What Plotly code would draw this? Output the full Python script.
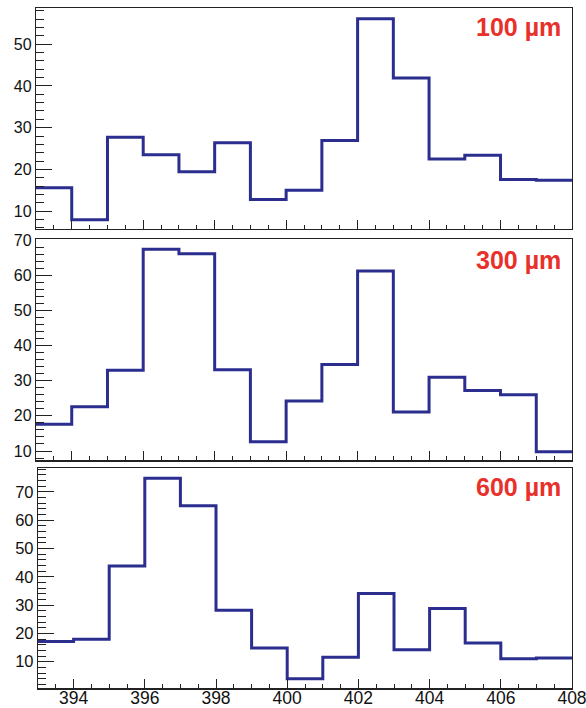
import plotly.graph_objects as go

bin_edges = [393, 394, 395, 396, 397, 398, 399, 400, 401, 402, 403, 404, 405, 406, 407, 408]
counts_100 = [15.6, 7.9, 27.7, 23.5, 19.4, 26.4, 12.8, 15.0, 26.9, 56.1, 41.9, 22.5, 23.4, 17.6, 17.4]
counts_300 = [17.6, 22.6, 33.0, 67.4, 66.1, 33.1, 12.6, 24.2, 34.6, 61.2, 21.1, 31.0, 27.2, 26.0, 9.8]
counts_600 = [17.1, 17.9, 43.8, 74.8, 65.1, 28.2, 14.8, 4.0, 11.6, 34.1, 14.2, 28.8, 16.6, 11.0, 11.3]
labels = ["100 µm", "300 µm", "600 µm"]
x_ticks = [394, 396, 398, 400, 402, 404, 406, 408]

W, H = 586, 708
panels = [
    dict(vals=counts_100, x0=36, x1=572, top=8, bot=229, yr=[5.7, 58.7], lab=labels[0], ly=0.914, fs=16),
    dict(vals=counts_300, x0=36, x1=572, top=239.3, bot=460.3, yr=[7.36, 70.2], lab=labels[1], ly=0.906, fs=16),
    dict(vals=counts_600, x0=38, x1=572, top=467.7, bot=688.3, yr=[0.6, 78.5], lab=labels[2], ly=0.914, fs=16.5),
]

LINE = "#2b2e8e"
AX = "#222222"
fig = go.Figure()
layout = dict(width=W, height=H, margin=dict(l=0, r=0, t=0, b=0, autoexpand=False),
              paper_bgcolor="white", plot_bgcolor="white", showlegend=False,
              font=dict(family="Liberation Sans, Arial, sans-serif", color="#111"))
annotations = []
for i, p in enumerate(panels):
    n = "" if i == 0 else str(i + 1)
    xs = list(bin_edges)
    ys = list(p["vals"]) + [p["vals"][-1]]
    fig.add_trace(go.Scatter(x=xs, y=ys, mode="lines", line=dict(shape="hv", color=LINE, width=3),
                             xaxis="x" + n, yaxis="y" + n, hoverinfo="skip"))
    last = (i == 2)
    layout["xaxis" + n] = dict(
        domain=[p["x0"] / W, p["x1"] / W], range=[393, 408], anchor="y" + n,
        showgrid=False, zeroline=False, showline=True, mirror=True, linecolor=AX, linewidth=1.2,
        ticks="inside", ticklen=9, tickwidth=1, tickcolor=AX,
        tickvals=x_ticks, showticklabels=last, tickfont=dict(size=17.5),
        ticklabeloverflow="allow", ticklabelstandoff=-7,
        minor=dict(ticks="inside", ticklen=4.5, dtick=0.5, tick0=393, tickcolor=AX, tickwidth=1),
    )
    layout["yaxis" + n] = dict(
        domain=[1 - p["bot"] / H, 1 - p["top"] / H], range=p["yr"], anchor="x" + n,
        showgrid=False, zeroline=False, showline=True, mirror=True, linecolor=AX, linewidth=1.2,
        ticks="inside", ticklen=16, tickwidth=1, tickcolor=AX, dtick=10, tick0=0,
        tickfont=dict(size=p["fs"]), ticklabeloverflow="allow",
        minor=dict(ticks="inside", ticklen=8, dtick=2, tick0=0, tickcolor=AX, tickwidth=1),
    )
    annotations.append(dict(text="<b>" + p["lab"] + "</b>", xref="x" + n + " domain", yref="y" + n + " domain",
                            x=0.983, y=p["ly"], xanchor="right", yanchor="middle", showarrow=False,
                            font=dict(size=25, color="#e8312a", family="Liberation Sans, Arial, sans-serif")))
layout["annotations"] = annotations
fig.update_layout(**layout)
fig.write_html("out.html", config={"displayModeBar": False, "staticPlot": True},
               post_script="document.body.style.margin='0px';document.body.style.overflow='hidden';")
